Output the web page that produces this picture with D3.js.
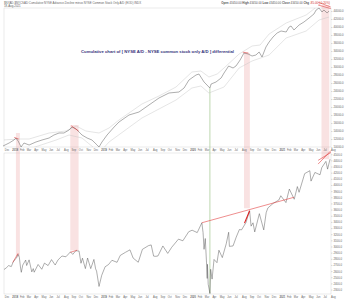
<!DOCTYPE html>
<html>
<head>
<meta charset="utf-8">
<script src="https://cdn.jsdelivr.net/npm/d3@7"></script>
<style>
  body { margin: 0; background: #fff; }
  svg { display: block; font-family: "Liberation Sans", Arial, sans-serif; }
</style>
</head>
<body>
<div id="chart"></div>
<script>
// ---- data ----
// cumulative NYSE A/D minus NYSE common-only A/D (top panel)
const diffLine = [
  ["2017-11-25",10250],["2017-12-20",11000],["2018-01-09",11750],["2018-01-17",12250],["2018-01-26",11500],
  ["2018-02-07",10000],["2018-02-19",11000],["2018-03-12",10500],["2018-04-09",11250],["2018-05-04",11750],
  ["2018-06-02",12250],["2018-06-22",13000],["2018-07-13",13500],["2018-08-02",13500],["2018-08-23",14250],
  ["2018-09-04",15000],["2018-09-21",14500],["2018-10-03",13750],["2018-10-15",13000],["2018-11-05",12250],
  ["2018-11-25",11750],["2018-12-16",10500],["2018-12-24",10000],["2019-01-05",11250],["2019-01-26",13000],
  ["2019-02-24",15000],["2019-03-16",16250],["2019-04-26",18000],["2019-06-06",18750],["2019-07-17",20500],
  ["2019-08-27",22250],["2019-10-07",23500],["2019-11-17",23750],["2019-12-08",24750],["2019-12-28",26750],
  ["2020-01-26",28000],["2020-02-07",28250],["2020-02-28",26250],["2020-03-23",24750],["2020-03-28",25750],
  ["2020-04-17",26250],["2020-05-08",27250],["2020-05-20",28500],["2020-06-08",30250],["2020-06-26",29750],
  ["2020-07-08",30250],["2020-07-25",31750],["2020-08-10",33500],["2020-08-27",33250],["2020-09-12",32750],
  ["2020-09-28",33000],["2020-10-11",33750],["2020-10-23",32500],["2020-11-08",35000],["2020-11-21",36250],
  ["2020-12-07",37500],["2020-12-24",38500],["2021-01-09",39000],["2021-01-30",38750],["2021-02-11",40000],
  ["2021-02-19",40250],["2021-03-03",39250],["2021-03-24",40500],["2021-04-13",41250],["2021-05-04",42250],
  ["2021-05-24",43250],["2021-06-02",44250],["2021-06-14",44750],["2021-06-26",43750],["2021-07-04",44250],
  ["2021-07-17",43500],["2021-07-25",44000]
];
const diffUpper = [
  ["2017-11-25",11750],["2018-01-30",12000],["2018-03-12",12000],["2018-06-02",13500],["2018-08-10",14000],
  ["2018-09-21",15250],["2018-10-31",14000],["2018-12-24",13500],["2019-02-03",14750],["2019-03-16",16750],
  ["2019-06-18",20750],["2019-08-27",22750],["2019-11-05",25000],["2020-01-09",28750],["2020-02-15",29000],
  ["2020-03-19",27500],["2020-04-22",28250],["2020-05-20",29750],["2020-07-21",33250],["2020-09-12",35250],
  ["2020-10-15",35500],["2020-11-21",38250],["2021-01-30",41000],["2021-04-22",43000],["2021-06-14",45500],
  ["2021-07-25",46000]
];
const diffLower = [
  ["2017-11-25",8500],["2018-03-24",9750],["2018-07-01",11750],["2018-08-23",13000],["2018-10-15",12250],
  ["2018-12-04",9750],["2019-01-01",9000],["2019-02-03",11250],["2019-06-18",17250],["2019-11-05",21750],
  ["2020-01-09",24750],["2020-02-15",25250],["2020-03-19",23500],["2020-05-20",25000],["2020-07-21",29750],
  ["2020-09-12",31500],["2020-11-21",33000],["2021-01-30",37250],["2021-04-22",39000],["2021-06-14",41750],
  ["2021-07-25",42500]
];
// S&P 500 (bottom panel)
const spx = [
  ["2017-11-29",2626],["2017-12-08",2652],["2017-12-18",2690],["2017-12-29",2674],["2018-01-05",2743],
  ["2018-01-12",2786],["2018-01-19",2810],["2018-01-26",2873],["2018-01-31",2824],["2018-02-05",2649],
  ["2018-02-08",2581],["2018-02-14",2698],["2018-02-26",2780],["2018-03-02",2691],["2018-03-12",2783],
  ["2018-03-23",2588],["2018-03-29",2641],["2018-04-02",2582],["2018-04-18",2708],["2018-05-03",2630],
  ["2018-05-14",2730],["2018-05-29",2690],["2018-06-12",2787],["2018-06-27",2699],["2018-07-09",2784],
  ["2018-07-25",2846],["2018-08-10",2833],["2018-08-29",2914],["2018-09-07",2872],["2018-09-20",2931],
  ["2018-10-03",2926],["2018-10-11",2728],["2018-10-17",2810],["2018-10-29",2641],["2018-11-07",2813],
  ["2018-11-20",2641],["2018-12-03",2790],["2018-12-10",2637],["2018-12-14",2600],["2018-12-24",2351],
  ["2019-01-04",2532],["2019-01-18",2671],["2019-02-01",2707],["2019-02-15",2776],["2019-03-08",2743],
  ["2019-03-21",2855],["2019-04-12",2907],["2019-04-30",2946],["2019-05-13",2812],["2019-06-03",2744],
  ["2019-06-20",2954],["2019-07-15",3014],["2019-07-26",3026],["2019-08-05",2844],["2019-08-14",2840],
  ["2019-08-23",2847],["2019-09-12",3009],["2019-10-02",2888],["2019-10-18",2986],["2019-11-15",3120],
  ["2019-12-03",3093],["2019-12-27",3240],["2020-01-10",3265],["2020-01-31",3226],["2020-02-19",3386],
  ["2020-02-24",3226],["2020-02-28",2954],["2020-03-04",3130],["2020-03-09",2746],["2020-03-12",2481],
  ["2020-03-13",2711],["2020-03-16",2386],["2020-03-20",2305],["2020-03-23",2237],["2020-03-26",2630],
  ["2020-04-01",2470],["2020-04-09",2790],["2020-04-21",2737],["2020-04-29",2940],["2020-05-13",2820],
  ["2020-05-29",3044],["2020-06-08",3232],["2020-06-11",3002],["2020-06-26",3009],["2020-07-09",3152],
  ["2020-07-22",3276],["2020-07-31",3271],["2020-08-18",3390],["2020-09-02",3580],["2020-09-08",3331],
  ["2020-09-16",3385],["2020-09-23",3237],["2020-10-12",3534],["2020-10-30",3270],["2020-11-09",3550],
  ["2020-11-16",3627],["2020-12-08",3702],["2020-12-31",3756],["2021-01-08",3825],["2021-01-29",3714],
  ["2021-02-12",3934],["2021-03-04",3768],["2021-03-17",3974],["2021-03-24",3881],["2021-04-16",4185],
  ["2021-05-07",4232],["2021-05-12",4063],["2021-05-28",4204],["2021-06-18",4166],["2021-06-25",4281],
  ["2021-07-12",4384],["2021-07-19",4258],["2021-07-29",4419]
];

// pink highlight bands: [start, end, top-panel value, bottom-panel value]
const bands = [
  ["2018-01-17","2018-02-02",13500,2840],
  ["2018-08-28","2018-10-01",15500,2938],
  ["2020-08-10","2020-09-03",33500,3622],
  ["2021-06-24","2021-07-26",47000,4420]
];
// red trend marks
const topMarks = [
  [["2018-01-10",12400],["2018-01-28",12000]],
  [["2018-09-01",15300],["2018-10-01",14000]],
  [["2020-08-05",33700],["2020-08-28",33500]],
  [["2021-06-10",46200],["2021-08-01",45000]],
  [["2021-06-10",45500],["2021-08-01",44600]]
];
const bottomMarks = [
  [["2018-01-04",2740],["2018-01-26",2890]],
  [["2018-08-28",2905],["2018-09-25",2940]],
  [["2020-02-19",3386],["2021-03-03",3800]],
  [["2021-06-10",4340],["2021-08-02",4560]],
  [["2021-06-10",4400],["2021-08-02",4530]]
];
const thickMark = [["2020-08-12",3380],["2020-09-02",3580]];
const lowDate = "2020-03-23", lowTop = 24750, lowBottom = 2237;

const topTicks = d3.range(10000, 46001, 2000);
const bottomTicks = d3.range(2300, 4501, 100);
const titleText = "Cumulative chart of  [ NYSE A/D - NYSE common stock only A/D ]  differential";

// ---- layout ----
const W = 345, H = 300;
const left = 4, right = 331;
const top1 = 8, bot1 = 147;
const top2 = 153, bot2 = 294;

const parse = d3.timeParse("%Y-%m-%d");
const x = d3.scaleTime()
  .domain([parse("2017-11-29"), parse("2021-08-02")])
  .range([left, right]);
const y1 = d3.scaleLinear().domain([10000, 44750]).range([bot1, top1]);
const y2 = d3.scaleLinear().domain([2220, 4520]).range([bot2 + 0.5, top2]);

const svg = d3.select("#chart").append("svg")
  .attr("width", W).attr("height", H);

const defs = svg.append("defs");
defs.append("clipPath").attr("id", "clip1").append("rect")
  .attr("x", left).attr("y", top1).attr("width", right - left).attr("height", bot1 - top1);
defs.append("clipPath").attr("id", "clip2").append("rect")
  .attr("x", left).attr("y", top2).attr("width", right - left).attr("height", bot2 - top2);

// panel frames
[[top1, bot1], [top2, bot2]].forEach(([t, b]) => {
  svg.append("rect")
    .attr("x", left).attr("y", t).attr("width", right - left).attr("height", b - t)
    .attr("fill", "none").attr("stroke", "#d6d6d6").attr("stroke-width", 0.5);
});

// highlight bands spanning both panels
svg.append("g").selectAll("rect").data(bands).join("rect")
  .attr("x", d => x(parse(d[0])))
  .attr("width", d => x(parse(d[1])) - x(parse(d[0])))
  .attr("y", d => Math.max(top1 - 3, y1(d[2])))
  .attr("height", d => y2(d[3]) - Math.max(top1 - 3, y1(d[2])))
  .attr("fill", "#e88a8a").attr("fill-opacity", 0.25);

// green line from the A/D low to the index low
svg.append("line")
  .attr("x1", x(parse(lowDate))).attr("x2", x(parse(lowDate)))
  .attr("y1", y1(lowTop)).attr("y2", y2(lowBottom))
  .attr("stroke", "#7ab060").attr("stroke-width", 0.5);

const line1 = d3.line().x(d => x(parse(d[0]))).y(d => y1(d[1]));
const line2 = d3.line().x(d => x(parse(d[0]))).y(d => y2(d[1]));

const g1 = svg.append("g").attr("clip-path", "url(#clip1)");
[diffUpper, diffLower].forEach(s => {
  g1.append("path").attr("d", line1(s))
    .attr("fill", "none").attr("stroke", "#c4c4c4").attr("stroke-width", 0.45);
});
svg.append("path").attr("d", line1(diffLine))
  .attr("fill", "none").attr("stroke", "#4a4a4a").attr("stroke-width", 0.45);

const g2 = svg.append("g").attr("clip-path", "url(#clip2)");
g2.append("path").attr("d", line2(spx))
  .attr("fill", "none").attr("stroke", "#4a4a4a").attr("stroke-width", 0.45);

// red marks
topMarks.forEach(m => svg.append("path").attr("d", line1(m))
  .attr("fill", "none").attr("stroke", "#e03030").attr("stroke-width", 0.55));
bottomMarks.forEach(m => svg.append("path").attr("d", line2(m))
  .attr("fill", "none").attr("stroke", "#e03030").attr("stroke-width", 0.55));
svg.append("path").attr("d", line2(thickMark))
  .attr("fill", "none").attr("stroke", "#e02020").attr("stroke-width", 1.1);

// title
svg.append("text")
  .attr("x", 81).attr("y", 53)
  .attr("textLength", 153).attr("lengthAdjust", "spacingAndGlyphs")
  .attr("font-size", 4.4).attr("font-weight", "bold").attr("fill", "#33337a")
  .text(titleText);

// header lines
svg.append("text").attr("x", 4).attr("y", 3.6).attr("font-size", 2.9).attr("fill", "#666")
  .text("$NYAD-$NYCSAD Cumulative NYSE Advance-Decline minus NYSE Common Stock Only A/D (EOD) INDX");
svg.append("text").attr("x", 4).attr("y", 7).attr("font-size", 2.9).attr("fill", "#666")
  .text("18-Aug-2021");
const hdr = svg.append("text").attr("x", 330).attr("y", 3.6).attr("font-size", 2.9)
  .attr("text-anchor", "end").attr("fill", "#555");
[["Open ", true], ["43450.00  ", false], ["High ", true], ["43450.00  ", false], ["Low ", true],
 ["43450.00  ", false], ["Close ", true], ["43450.00  ", false], ["Chg ", true]].forEach(([t, b]) => {
  hdr.append("tspan").attr("font-weight", b ? "bold" : null).text(t);
});
hdr.append("tspan").attr("fill", "#d03030").text("-85.00 (-0.20%)");

// month axes
const months = x.ticks(d3.timeMonth.every(1));
const fmt = d => d.getMonth() === 0 ? d3.timeFormat("%Y")(d) : d3.timeFormat("%b")(d);
[[bot1 + 3.6], [bot2 + 3.8]].forEach(([yy]) => {
  svg.append("g").selectAll("text").data(months).join("text")
    .attr("x", d => x(d) + 0.3).attr("y", yy)
    .attr("font-size", 2.6).attr("fill", "#666")
    .attr("font-weight", d => d.getMonth() === 0 ? "bold" : null)
    .text(fmt);
});

// right value axes
const ax1 = svg.append("g").attr("transform", `translate(${right},0)`)
  .call(d3.axisRight(y1).tickValues(topTicks.filter(v => y1(v) >= top1 - 1)).tickSize(1.5).tickPadding(1).tickFormat(d3.format(".1f")));
const ax2 = svg.append("g").attr("transform", `translate(${right},0)`)
  .call(d3.axisRight(y2).tickValues(bottomTicks).tickSize(1.5).tickPadding(1).tickFormat(d3.format(".1f")));
[ax1, ax2].forEach(a => {
  a.select(".domain").remove();
  a.selectAll("line").attr("stroke", "#aaa").attr("stroke-width", 0.4);
  a.selectAll("text").attr("font-size", 2.8).attr("fill", "#666")
    .attr("font-family", "Liberation Sans, Arial, sans-serif");
});
</script>
</body>
</html>
